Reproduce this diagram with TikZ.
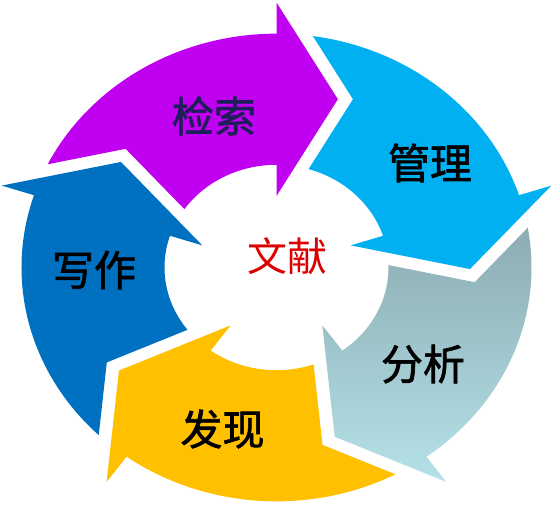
\documentclass[tikz,border=0pt]{standalone}
\usepackage{fontspec}
\newfontfamily\cjk{Noto Sans CJK SC}[FakeBold=1.5]
\newfontfamily\cjkc{Noto Sans CJK SC}
\definecolor{cPurple}{RGB}{192,0,240}
\definecolor{cCyan}{RGB}{0,176,240}
\definecolor{cBlue}{RGB}{0,112,192}
\definecolor{cGold}{RGB}{255,192,0}
\definecolor{cGrayTop}{RGB}{140,172,178}
\definecolor{cGrayBot}{RGB}{180,226,232}
\definecolor{cNavy}{RGB}{30,30,90}
\definecolor{cRed}{RGB}{220,0,0}
\newcommand\ringarrow[1]{({153.8+(#1)}:255) arc[start angle={153.8+(#1)}, end angle={90+(#1)}, radius=255] -- ({90+(#1)}:289) -- ({71.5+(#1)}:193.5) -- ({90+(#1)}:78) -- ({90+(#1)}:112) arc[start angle={90+(#1)}, end angle={145.35+(#1)}, radius=112] -- ({139.38+(#1)}:198.8) -- cycle}
\begin{document}
\begin{tikzpicture}[x=1pt,y=1pt,
  lbl/.style={font=\cjk\fontsize{42}{48}\selectfont, text=black, inner sep=0pt},
  ctr/.style={font=\cjkc\fontsize{40}{46}\selectfont, text=cRed, inner sep=0pt}]
\useasboundingbox (0,0) rectangle (554,508);
\fill[white] (0,0) rectangle (554,508);
\begin{scope}[shift={(276.5,240.5)}, yscale=0.917]
  \fill[cPurple] \ringarrow{0};
  \fill[cCyan] \ringarrow{-72};
  \shade[top color=cGrayTop, bottom color=cGrayBot] \ringarrow{-144};
  \fill[cGold] \ringarrow{-216};
  \fill[cBlue] \ringarrow{72};
\end{scope}
\node[lbl, text=cNavy] (jiansuo) at (214,392) {检索};
\node[lbl] (guanli) at (430,345) {管理};
\node[lbl] (fenxi) at (423,144) {分析};
\node[lbl] (faxian) at (222.5,79) {发现};
\node[lbl] (xiezuo) at (94,238) {写作};
\node[ctr] (wenxian) at (287,252) {文献};
\end{tikzpicture}
\end{document}
